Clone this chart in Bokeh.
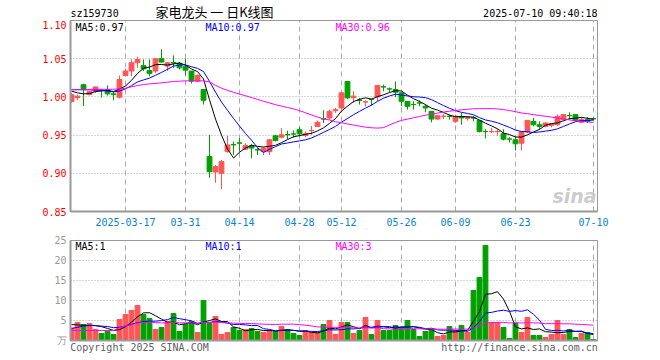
import pandas as pd
from bokeh.plotting import figure
from bokeh.layouts import column
from bokeh.models import (Range1d, FixedTicker, Label, ColumnDataSource, Grid,
                          NumeralTickFormatter, LinearAxis)
from bokeh.embed import file_html
from bokeh.resources import INLINE

# ---------------- data ----------------
opens = [0.994, 0.999, 1.016, 1.003, 1.0075, 1.009, 1.0097, 1.004, 0.9996, 1.028,
         1.0338, 1.0447, 1.041, 1.0346, 1.0338, 1.05, 1.0404, 1.0452, 1.0439, 1.0395,
         1.0338, 1.0206, 1.0097, 0.9219, 0.9017, 0.90, 0.9284, 0.9376, 0.9398, 0.9315,
         0.936, 0.9308, 0.9284, 0.9284, 0.949, 0.9473, 0.9506, 0.9515, 0.957, 0.9495,
         0.956, 0.9614, 0.9713, 0.9724, 0.982, 0.9855, 1.0202, 0.999, 0.9958, 0.9934,
         0.9967, 1.00, 1.0132, 1.0105, 1.0097, 1.0053, 0.9939, 0.9901, 0.9922, 0.9877,
         0.9811, 0.971, 0.9745, 0.9747, 0.968, 0.9745, 0.9719, 0.9726, 0.9693, 0.9548,
         0.9544, 0.9544, 0.9518, 0.9449, 0.9438, 0.9394, 0.9543, 0.968, 0.9636, 0.9614,
         0.9627, 0.9636, 0.9702, 0.9756, 0.9768, 0.9667, 0.9702, 0.9715]
highs = [1.005, 1.003, 1.017, 1.008, 1.0135, 1.010, 1.015, 1.0075, 1.028, 1.037,
         1.049, 1.0526, 1.049, 1.049, 1.05, 1.0623, 1.0447, 1.0544, 1.0456, 1.05,
         1.0338, 1.0294, 1.0097, 0.9504, 0.911, 0.9175, 0.949, 0.9416, 0.946, 0.9394,
         0.9385, 0.933, 0.934, 0.9447, 0.9504, 0.9592, 0.9557, 0.956, 0.9605, 0.9548,
         0.962, 0.969, 0.9825, 0.9833, 0.9855, 1.0061, 1.0202, 1.0075, 0.9987, 0.9956,
         0.9974, 1.0149, 1.0162, 1.0123, 1.0202, 1.0053, 0.9939, 0.9943, 0.9956, 0.9899,
         0.9811, 0.9754, 0.978, 0.9768, 0.9768, 0.979, 0.975, 0.9745, 0.9693, 0.9578,
         0.9592, 0.9578, 0.9578, 0.9473, 0.9482, 0.9543, 0.9693, 0.9724, 0.968, 0.9667,
         0.9658, 0.9768, 0.9768, 0.9798, 0.9768, 0.9737, 0.9737, 0.9735]
lows = [0.992, 0.996, 0.988, 1.002, 1.005, 0.999, 1.0018, 0.9956, 0.998, 1.027,
        1.027, 1.038, 1.034, 1.027, 1.0316, 1.045, 1.0338, 1.038, 1.036, 1.028,
        1.0175, 1.0193, 0.99, 0.8942, 0.8876, 0.8793, 0.927, 0.924, 0.9284, 0.9306,
        0.9196, 0.924, 0.924, 0.924, 0.9416, 0.946, 0.9447, 0.947, 0.948, 0.9473,
        0.9504, 0.9605, 0.9658, 0.970, 0.979, 0.9842, 0.9974, 0.992, 0.99, 0.9877,
        0.9886, 0.9943, 1.0075, 1.0061, 1.00, 0.9877, 0.9833, 0.9833, 0.9877, 0.9798,
        0.9667, 0.9702, 0.971, 0.9702, 0.9658, 0.9636, 0.969, 0.968, 0.9535, 0.9456,
        0.9526, 0.9491, 0.943, 0.9403, 0.9298, 0.9298, 0.9526, 0.9614, 0.9578, 0.9601,
        0.9601, 0.9623, 0.9693, 0.9702, 0.968, 0.9658, 0.9658, 0.969]
closes = [1.003, 1.001, 1.0105, 1.007, 1.013, 1.008, 1.004, 1.003, 1.0228, 1.0338,
          1.0447, 1.049, 1.0368, 1.0307, 1.05, 1.0456, 1.0447, 1.0443, 1.038, 1.035,
          1.0206, 1.028, 0.9956, 0.9021, 0.9087, 0.9153, 0.9372, 0.9372, 0.9394, 0.9363,
          0.933, 0.9306, 0.9328, 0.9438, 0.943, 0.9504, 0.9504, 0.9513, 0.9517, 0.9517,
          0.9562, 0.9667, 0.971, 0.9811, 0.9833, 1.0053, 0.9987, 1.001, 0.9956, 0.9936,
          0.9965, 1.0149, 1.013, 1.0103, 1.0061, 0.9943, 0.9877, 0.9899, 0.992, 0.9855,
          0.971, 0.9754, 0.9747, 0.9745, 0.9746, 0.9724, 0.9737, 0.9724, 0.9548, 0.9546,
          0.9548, 0.9548, 0.9447, 0.9447, 0.9386, 0.9543, 0.9693, 0.9636, 0.9614, 0.9658,
          0.9649, 0.9746, 0.9768, 0.9754, 0.9693, 0.9702, 0.968, 0.9712]
volumes = [3.1, 4.5, 4.0, 4.25, 2.8, 1.75, 2.3, 1.5, 5.25, 6.5,
           7.5, 8.75, 6.5, 5.5, 2.75, 3.25, 4.75, 6.75, 2.25, 4.0,
           4.75, 2.0, 10.0, 4.25, 6.0, 1.5, 2.0, 3.25, 2.5, 2.75,
           3.0, 2.25, 2.0, 2.5, 2.25, 3.5, 2.75, 1.75, 1.25, 2.5,
           2.0, 2.0, 4.0, 5.0, 1.5, 4.5, 4.5, 1.75, 2.5, 5.75,
           1.5, 5.0, 2.5, 2.5, 3.75, 3.25, 5.0, 2.75, 1.0, 2.25,
           2.75, 1.0, 1.25, 3.5, 2.25, 3.75, 2.0, 12.5, 15.75, 23.75,
           4.5, 4.5, 3.25, 0.5, 4.25, 2.0, 5.75, 1.25, 1.25, 0.75,
           1.5, 5.0, 1.5, 2.75, 0.75, 1.75, 2.0, 0.25]

# moving-average values for the first days (their windows
# reach back before the first visible day); later days use the rolling mean
ma5_head = [1.0075, 1.0053, 1.004, 1.0044]
ma10_head = [1.0093, 1.0093, 1.0093, 1.0093, 1.0088, 1.0088, 1.0075, 1.0066, 1.0075]
ma30_head = [1.0097, 1.0097, 1.0097, 1.0097, 1.010, 1.010, 1.010, 1.010, 1.0105,
             1.0114, 1.0132, 1.0149, 1.0162, 1.0171, 1.0176, 1.0184, 1.0193, 1.0202,
             1.0206, 1.021, 1.021, 1.021, 1.021]
vma5_head = [4.0, 3.9, 3.8, 3.8]
vma10_head = [3.0, 3.3, 3.6, 3.75, 3.7, 3.6, 3.5, 3.2, 3.3]
vma30_head = [2.5, 2.5, 2.5, 2.5, 2.5, 2.5, 2.5, 2.5]

tick_idx = [9, 19, 28, 38, 45, 55, 64, 74, 87]
tick_labels = ["2025-03-17", "03-31", "04-14", "04-28", "05-12",
               "05-26", "06-09", "06-23", "07-10"]
price_ticks = [0.85, 0.90, 0.95, 1.00, 1.05, 1.10]
vol_ticks = [0, 5, 10, 15, 20, 25]

n = len(closes)
assert len(opens) == len(highs) == len(lows) == len(volumes) == n

# ---------------- styling ----------------
RED = "#ff5555"
GREEN = "#00a000"
GRID = "#aaaaaa"
FRAME = "#999999"
MONO = "DejaVu Sans Mono"

idx = list(range(n))
colors = [RED if c >= o else GREEN for o, c in zip(opens, closes)]
df = pd.DataFrame({"x": idx, "open": opens, "high": highs, "low": lows,
                   "close": closes, "vol": volumes, "color": colors})
df["top"] = df[["open", "close"]].max(axis=1)
df["bottom"] = df[["open", "close"]].min(axis=1)
heads = {"ma5": ma5_head, "ma10": ma10_head, "ma30": ma30_head,
         "vma5": vma5_head, "vma10": vma10_head, "vma30": vma30_head}
for w in (5, 10, 30):
    df[f"ma{w}"] = df["close"].rolling(w, min_periods=1).mean()
    df[f"vma{w}"] = df["vol"].rolling(w, min_periods=1).mean()
for col, head in heads.items():
    df.loc[: len(head) - 1, col] = head
src = ColumnDataSource(df)

XR = (-0.17, 87.67)
FL, FR = 70, 597   # frame left / right in page pixels
W = 620


def px2x(px):
    return XR[0] + (px - FL) * (XR[1] - XR[0]) / (FR - FL)


def py2price(py):
    return 1.10 - (py - 20) * 0.25 / 191.0


def py2vol(py):
    return (340 - py) * 25 / 100.0


def lab(p, x, y, text, color="black", size="10px", font=MONO, align="left", **kw):
    p.add_layout(Label(x=x, y=y, text=text, text_color=color, text_font_size=size,
                       text_font=font, text_align=align, text_baseline="middle", **kw))


def style_common(p):
    p.outline_line_color = FRAME
    p.outline_line_width = 1
    p.background_fill_color = "white"
    p.border_fill_color = "white"
    p.min_border_left = FL
    p.min_border_right = W - FR


# ---------------- header (frame spans page pixels FL..FR, 0..20) ----------------
hd = figure(width=W, height=20, output_backend="svg", toolbar_location=None,
            x_range=Range1d(FL, FR), y_range=Range1d(20, 0),
            x_axis_type=None, y_axis_type=None)
style_common(hd)
hd.min_border_top = 0
hd.min_border_bottom = 0
hd.outline_line_color = None
hd.xgrid.visible = False
hd.ygrid.visible = False
lab(hd, 70, 13, "sz159730")
lab(hd, 214, 10.5, "家电龙头 一 日K线图", size="13px", font="Noto Sans CJK SC",
    align="center")
lab(hd, 597, 13, "2025-07-10 09:40:18", align="right")

# ---------------- main price panel ----------------
p1 = figure(width=W, height=212, output_backend="svg", toolbar_location=None,
            x_range=Range1d(*XR), y_range=Range1d(0.85, 1.10))
style_common(p1)
p1.min_border_top = 0
p1.min_border_bottom = 21

p1.xaxis.ticker = FixedTicker(ticks=tick_idx)
p1.xaxis.major_label_overrides = {t: l for t, l in zip(tick_idx, tick_labels)}
p1.yaxis.ticker = FixedTicker(ticks=price_ticks)
p1.yaxis.formatter = NumeralTickFormatter(format="0.00")
for ax in (p1.xaxis, p1.yaxis):
    ax.major_tick_out = 0
    ax.major_tick_in = 0
    ax.minor_tick_out = 0
    ax.minor_tick_in = 0
    ax.axis_line_color = FRAME
    ax.axis_line_width = 2
    ax.major_label_text_font = MONO
    ax.major_label_text_font_size = "10px"
p1.xaxis.major_label_text_color = "#0a84d0"
p1.yaxis.major_label_text_color = "#ff0000"
p1.xaxis.major_label_standoff = 6
p1.yaxis.major_label_standoff = 4

p1.xgrid.grid_line_color = GRID
p1.xgrid.grid_line_dash = "5 4"
p1.ygrid.grid_line_color = GRID
p1.ygrid.grid_line_dash = "1 2"

p1.segment(x0="x", y0="low", x1="x", y1="high", color="color", line_width=1, source=src)
p1.vbar(x="x", top="top", bottom="bottom", width=0.8, fill_color="color",
        line_color="color", line_width=1, source=src)
p1.line("x", "ma5", color="black", line_width=1, source=src)
p1.line("x", "ma10", color="#0000ff", line_width=1, source=src)
p1.line("x", "ma30", color="#ff00ff", line_width=1, source=src)

lab(p1, px2x(75), py2price(27), "MA5:0.97")
lab(p1, px2x(205), py2price(27), "MA10:0.97", color="#0000ff")
lab(p1, px2x(335), py2price(27), "MA30:0.96", color="#ff00ff")
lab(p1, px2x(552), py2price(195), "sina", color="#cccccc", size="19px",
    font="DejaVu Sans", text_font_style="bold italic")

# ---------------- volume panel ----------------
p2 = figure(width=W, height=124, output_backend="svg", toolbar_location=None,
            x_range=p1.x_range, y_range=Range1d(0, 25), x_axis_type=None)
style_common(p2)
p2.min_border_top = 8
p2.min_border_bottom = 16
p2.yaxis.ticker = FixedTicker(ticks=vol_ticks)
p2.yaxis.major_label_overrides = {0: "万"}
p2.yaxis.major_tick_out = 0
p2.yaxis.major_tick_in = 0
p2.yaxis.minor_tick_out = 0
p2.yaxis.minor_tick_in = 0
p2.yaxis.axis_line_color = FRAME
p2.yaxis.axis_line_width = 2
p2.yaxis.major_label_text_font = MONO
p2.yaxis.major_label_text_font_size = "10px"
p2.yaxis.major_label_text_color = "#999999"
p2.yaxis.major_label_standoff = 4
p2.ygrid.grid_line_color = GRID
p2.ygrid.grid_line_dash = "1 2"
p2.add_layout(Grid(dimension=0, ticker=FixedTicker(ticks=tick_idx),
                   grid_line_color=GRID, grid_line_dash="5 4"))

# footer texts as an axis below the volume panel (page-pixel range)
foot_pos = [139, 519]
foot_text = ["Copyright 2025 SINA.COM", "http://finance.sina.com.cn"]
p2.extra_x_ranges = {"px": Range1d(FL, FR)}
fax = LinearAxis(x_range_name="px", ticker=FixedTicker(ticks=foot_pos),
                 major_label_overrides={t: s for t, s in zip(foot_pos, foot_text)},
                 major_tick_out=0, major_tick_in=0, minor_tick_out=0, minor_tick_in=0,
                 axis_line_color=FRAME, axis_line_width=2,
                 major_label_standoff=1, major_label_text_font=MONO,
                 major_label_text_font_size="10px",
                 major_label_text_color="#606060")
p2.add_layout(fax, "below")

p2.vbar(x="x", top="vol", bottom=0, width=0.8, fill_color="color",
        line_color="color", line_width=1, source=src)
p2.line("x", "vma5", color="black", line_width=1, source=src)
p2.line("x", "vma10", color="#0000ff", line_width=1, source=src)
p2.line("x", "vma30", color="#ff00ff", line_width=1, source=src)

lab(p2, px2x(75), py2vol(246), "MA5:1")
lab(p2, px2x(205), py2vol(246), "MA10:1", color="#0000ff")
lab(p2, px2x(335), py2vol(246), "MA30:3", color="#ff00ff")

layout = column(hd, p1, p2, spacing=0)
open("out.html", "w").write(file_html(layout, INLINE))
